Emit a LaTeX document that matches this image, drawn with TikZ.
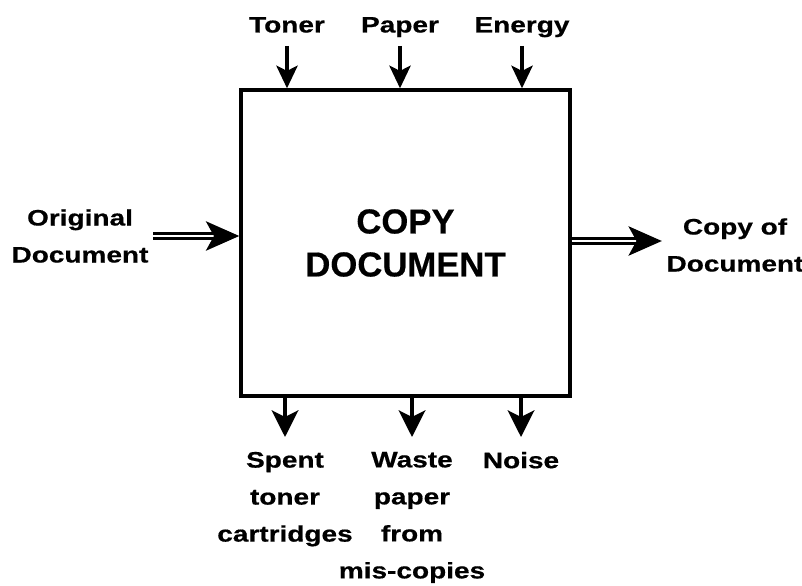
\documentclass[tikz,border=0pt]{standalone}
\usepackage{fontspec}
\newfontfamily\lblfont{Liberation Sans}[FakeStretch=1.25,FakeBold=0.6]
\newfontfamily\boxfont{Liberation Sans}[FakeBold=0.4]
\usetikzlibrary{arrows.meta}

\begin{document}
\begin{tikzpicture}[x=0.75pt,y=-0.75pt,
    lbl/.style={font=\lblfont\bfseries\fontsize{16.8}{27.75}\selectfont,align=center},
    feed/.style={line width=2.6pt,-{Stealth[length=17pt,width=16pt,inset=4pt]}},
    drop/.style={line width=2.6pt,-{Stealth[length=20pt,width=20pt,inset=5pt]}},
    pipe/.style={double,line width=2pt,double distance=1.5pt,-{Stealth[length=25pt,width=22pt,inset=6pt]}}]
            \useasboundingbox (0,0) rectangle (802,585);
            \node[draw,line width=2.6pt,minimum width=246.75pt,minimum height=229.5pt,
                font=\boxfont\bfseries\fontsize{26}{32.25}\selectfont,align=center]
                (copy) at (405.5,243) {COPY\\DOCUMENT};
            % inputs on top
            \node[lbl,anchor=base] (toner) at (287,32.5) {Toner};
            \node[lbl,anchor=base] (paper) at (400,32.5) {Paper};
            \node[lbl,anchor=base] (energy) at (522,32.5) {Energy};
            \draw[feed] ([yshift=-10pt]toner.base) -- (toner.base |- copy.north);
            \draw[feed] ([yshift=-10pt]paper.base) -- (paper.base |- copy.north);
            \draw[feed] ([yshift=-10pt]energy.base) -- (energy.base |- copy.north);
            % outputs below
            \node[lbl,anchor=north,inner ysep=11pt] (spent) at (285,437) {Spent\\toner\\cartridges};
            \node[lbl,anchor=north,inner ysep=11pt] (waste) at (412,437) {Waste\\paper\\from\\mis-copies};
            \node[lbl,anchor=north,inner ysep=11pt] (noise) at (521,437) {Noise};
            \draw[drop] (copy.south -| spent.north) -- (spent.north);
            \draw[drop] (copy.south -| waste.north) -- (waste.north);
            \draw[drop] (copy.south -| noise.north) -- (noise.north);
            % main flow
            \node[lbl] (orig) at (80,236) {Original\\Document};
            \node[lbl] (cpy) at (735,245) {Copy of\\Document};
            \draw[pipe] (orig.east) -- (orig.east -| copy.west);
            \draw[pipe] ([yshift=3pt]cpy.west -| copy.east) -- ([yshift=3pt]cpy.west);
        \end{tikzpicture}
\end{document}
